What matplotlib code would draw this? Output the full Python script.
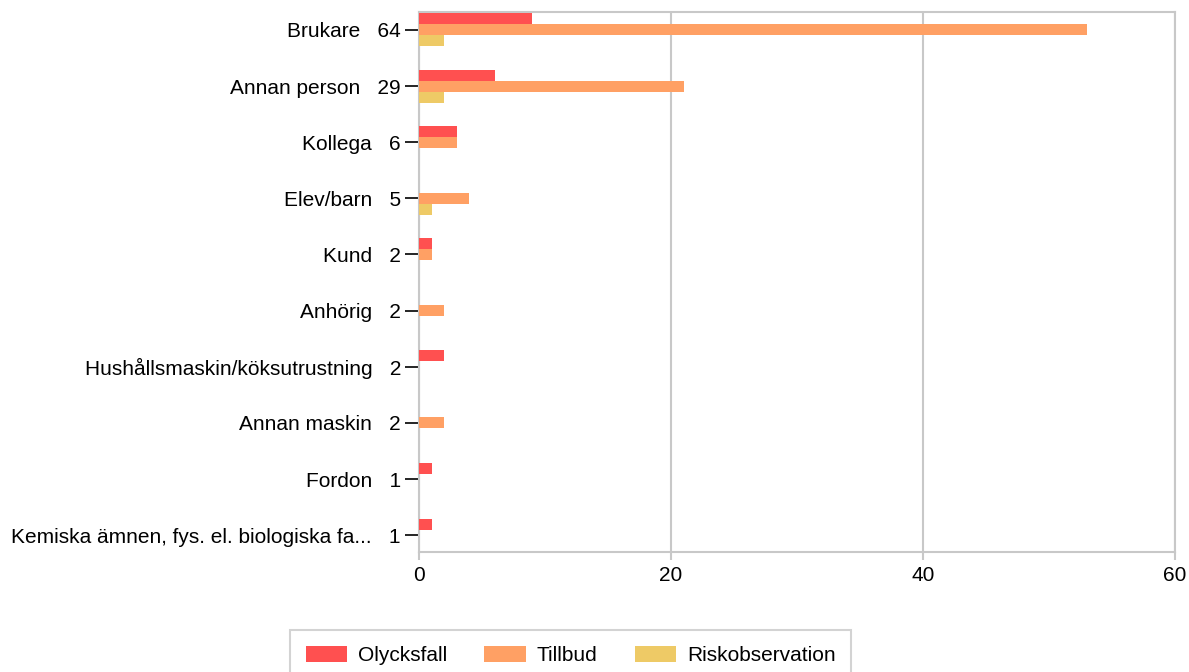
import matplotlib
matplotlib.use("Agg")
import matplotlib.pyplot as plt
import numpy as np

plt.rcParams['font.family'] = ['Liberation Sans', 'DejaVu Sans']

categories = ["Brukare", "Annan person", "Kollega", "Elev/barn", "Kund", "Anhörig",
              "Hushållsmaskin/köksutrustning", "Annan maskin", "Fordon",
              "Kemiska ämnen, fys. el. biologiska fa..."]
totals = [64, 29, 6, 5, 2, 2, 2, 2, 1, 1]
olycksfall = [9, 6, 3, 0, 1, 0, 2, 0, 1, 1]
tillbud = [53, 21, 3, 4, 1, 2, 0, 2, 0, 0]
riskobs = [2, 2, 0, 1, 0, 0, 0, 0, 0, 0]
xticks = [0, 20, 40, 60]

series = [("Olycksfall", olycksfall, "#ff5050"),
          ("Tillbud", tillbud, "#ffa064"),
          ("Riskobservation", riskobs, "#eeca66")]

fig = plt.figure(figsize=(11.89, 6.72), dpi=100)
ax = fig.add_axes([419/1189, 1-552/672, (1175-419)/1189, (552-12)/672])

y = np.arange(len(categories))
h = 0.196
for k, (name, vals, col) in enumerate(series):
    ax.barh(y + (k - 1) * h, vals, height=h, color=col, label=name, zorder=3)

ax.set_xlim(0, 60)
ax.set_ylim(9.30, -0.32)
ax.set_xticks(xticks)
ax.set_xticklabels([str(t) for t in xticks], fontsize=15)
ax.set_yticks(y)
ax.set_yticklabels([f"{c}   {n}" for c, n in zip(categories, totals)], fontsize=15)
ax.tick_params(axis='y', length=10, width=1.2, color='black', pad=3)
ax.tick_params(axis='x', length=6, width=1.5, color='#c8c8c8', pad=4)
ax.grid(axis='x', color='#c8c8c8', linewidth=1.5, zorder=0)
for s in ax.spines.values():
    s.set_color('#c8c8c8')
    s.set_linewidth(1.5)

leg = fig.legend(loc='upper left', bbox_to_anchor=(290/1189, 1-630/672), ncol=3,
                 fontsize=15, frameon=True, fancybox=False, edgecolor='#c8c8c8',
                 handlelength=2.0, handleheight=0.85, handletextpad=0.5,
                 columnspacing=1.8, borderpad=0.75, borderaxespad=0)
leg.get_frame().set_linewidth(1.5)

fig.savefig("out.png", dpi=100)
